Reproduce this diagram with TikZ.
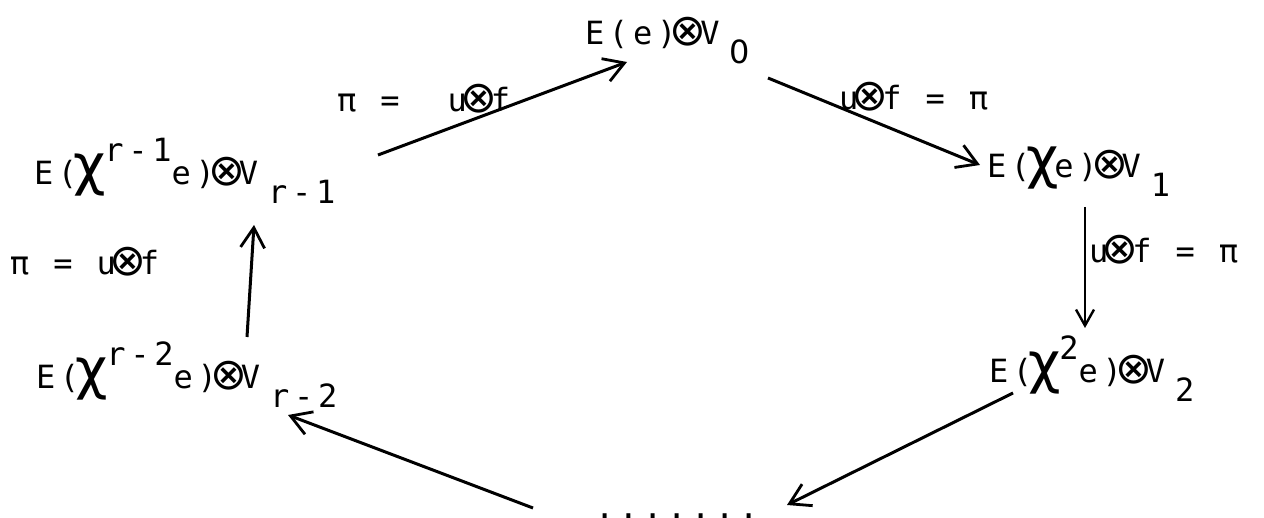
\documentclass[tikz,border=0pt]{standalone}
\usepackage{fontspec}
\setmainfont{DejaVu Sans Mono}[LetterSpace=14.8]
\newfontfamily\chifont{DejaVu Sans}
\newfontfamily\otfont{DejaVu Sans}
\usetikzlibrary{arrows.meta}
\newcommand\ot{\makebox[12pt]{\fontsize{22pt}{22pt}\otfont\raisebox{-0.5pt}{⊗}}}
\newcommand\bchi{\makebox[12pt]{\fontsize{28pt}{28pt}\chifont χ}}
\newcommand\zero{{\otfont 0}}
\newcommand\subs[1]{\hspace{5pt}\raisebox{-9.5pt}{#1}}
\newcommand\sups[1]{\hspace{1.5pt}\raisebox{11.5pt}{#1}}
\newcommand\tsp{\hspace{12pt}}
\begin{document}
\begin{tikzpicture}[x=0.5pt,y=-0.5pt,
  tw/.style={inner sep=0pt,outer sep=0pt,anchor=base west,font=\fontsize{16pt}{19pt}\selectfont},
  arr/.style={line width=1.5pt,-{Straight Barb[length=10pt,width=12pt,line width=1.4pt]}},
  thinarr/.style={line width=1pt,-{Straight Barb[length=8pt,width=9pt,line width=1.2pt]}}
]
\useasboundingbox[fill=white] (0,0) rectangle (1264,518);
% nodes
\node[tw] (n0)  at (585,45)  {E(e)\ot V\subs{\zero}};
\node[tw] (n1)  at (987,178) {E(\bchi e)\ot V\subs{1}};
\node[tw] (n2)  at (989,382) {E(\bchi\sups{2}e)\ot V\subs{2}};
\node[tw] (nd)  at (595,518) {.......};
\node[tw] (nr2) at (36,388)  {E(\bchi\sups{r-2}e)\ot V\subs{r-2}};
\node[tw] (nr1) at (34,185)  {E(\bchi\sups{r-1}e)\ot V\subs{r-1}};
% labels
\node[tw] (l1) at (337,112) {π\tsp=\tsp\tsp u\ot f};
\node[tw] (l2) at (839,110) {u\ot f\tsp=\tsp π};
\node[tw] (l3) at (1089,263) {u\ot f\tsp=\tsp π};
\node[tw] (l6) at (10,275) {π\tsp=\tsp u\ot f};
% arrows
\draw[arr] ([shift={(344,-30)}]nr1.base west) -- ([shift={(42,17)}]n0.base west);
\draw[arr] ([shift={(183,33)}]n0.base west) -- ([shift={(-7,-13)}]n1.base west);
\draw[thinarr] ([shift={(98,29)}]n1.base west) -- ([shift={(96,-54)}]n2.base west);
\draw[arr] ([shift={(24,11)}]n2.base west) -- ([shift={(192,-13)}]nd.base west);
\draw[arr] ([shift={(-62,-10)}]nd.base west) -- ([shift={(252,27)}]nr2.base west);
\draw[arr] ([shift={(211,-51)}]nr2.base west) -- ([shift={(220,40)}]nr1.base west);
\end{tikzpicture}
\end{document}
